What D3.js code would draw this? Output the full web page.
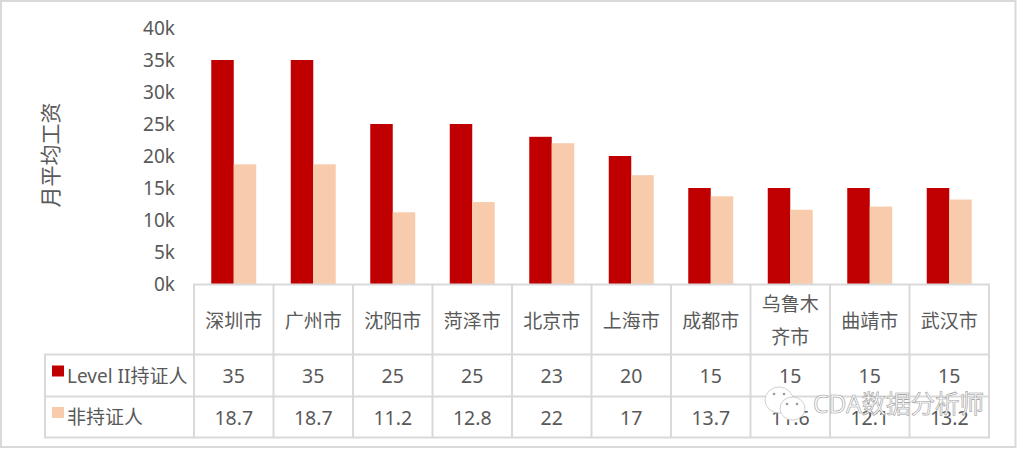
<!DOCTYPE html>
<html><head><meta charset="utf-8">
<script src="https://cdn.jsdelivr.net/npm/d3@7"></script>
<style>html,body{margin:0;padding:0;background:#fff}svg{display:block}
text{font-family:"Noto Sans","Noto Sans CJK SC",sans-serif;fill:#595959}</style>
</head><body><svg id="c" width="1017" height="449"></svg>
<script>
const cities=[["深圳市"],["广州市"],["沈阳市"],["菏泽市"],["北京市"],["上海市"],["成都市"],["乌鲁木","齐市"],["曲靖市"],["武汉市"]];
const certified=[35,35,25,25,23,20,15,15,15,15];
const nonCertified=[18.7,18.7,11.2,12.8,22,17,13.7,11.6,12.1,13.2];
const seriesNames=["Level II持证人","非持证人"];
const seriesColors=["#c00000","#f8cbad"];
const yTicks=[0,5,10,15,20,25,30,35,40];
const yTitle="月平均工资";

const svg=d3.select("#c");
const line="#d9d9d9";
svg.append("rect").attr("x",1).attr("y",1).attr("width",1014.5).attr("height",446).attr("fill","#fff").attr("stroke",line).attr("stroke-width",2);

const x=d3.scaleBand().domain(d3.range(cities.length)).range([194,989]);
const y=d3.scaleLinear().domain([0,40]).range([284,28]);
const inner=d3.scaleBand().domain([0,1]).range([0,x.bandwidth()]).paddingInner(0).paddingOuter(0.767);

// bars
[certified,nonCertified].forEach((vals,s)=>{
  svg.append("g").selectAll("rect").data(vals).join("rect")
    .attr("x",(d,i)=>x(i)+inner(s)).attr("width",inner.bandwidth())
    .attr("y",d=>y(d)).attr("height",d=>y(0)-y(d)).attr("fill",seriesColors[s]);
});

// y axis
const ay=svg.append("g").attr("transform","translate(175,0)")
  .call(d3.axisLeft(y).tickValues(yTicks).tickSize(0).tickPadding(0).tickFormat(d=>d+"k"));
ay.select(".domain").remove();
ay.selectAll("text").style("font-size","19px").style("font-family",'"Noto Sans","Noto Sans CJK SC",sans-serif').attr("fill","#595959");

svg.append("text").attr("transform","translate(50,155) rotate(-90)").attr("text-anchor","middle")
  .attr("dominant-baseline","central").style("font-size","21px").text(yTitle);

// table
const rowY=[284.5,354.5,396.5,437.5];
const left=45, colL=194, colR=989;
const g=svg.append("g").attr("stroke",line).attr("stroke-width",2).attr("fill","none");
g.append("line").attr("x1",colL-1).attr("x2",colR+1).attr("y1",rowY[0]).attr("y2",rowY[0]);
rowY.slice(1).forEach(v=>g.append("line").attr("x1",left-1).attr("x2",colR+1).attr("y1",v).attr("y2",v));
d3.range(cities.length+1).forEach(i=>{
  const px=i<cities.length?x(i):colR;
  g.append("line").attr("x1",px).attr("x2",px).attr("y1",rowY[0]).attr("y2",rowY[3]);
});
g.append("line").attr("x1",left).attr("x2",left).attr("y1",rowY[1]).attr("y2",rowY[3]);

// city labels
cities.forEach((lines,i)=>{
  const cx=x(i)+x.bandwidth()/2;
  lines.forEach((t,k)=>{
    const cy=(rowY[0]+rowY[1])/2+(k-(lines.length-1)/2)*33+1;
    svg.append("text").attr("x",cx).attr("y",cy).attr("text-anchor","middle").attr("dominant-baseline","central")
      .style("font-size","19px").text(t);
  });
});
// rows
[certified,nonCertified].forEach((vals,s)=>{
  const cy=(rowY[s+1]+rowY[s+2])/2;
  svg.append("rect").attr("x",52).attr("y",cy-10).attr("width",12).attr("height",11).attr("fill",seriesColors[s]);
  svg.append("text").attr("x",67).attr("y",cy).attr("dominant-baseline","central").style("font-size","19px").text(seriesNames[s]);
  vals.forEach((v,i)=>svg.append("text").attr("x",x(i)+x.bandwidth()/2).attr("y",cy).attr("text-anchor","middle")
    .attr("dominant-baseline","central").style("font-size","19.5px").text(v));
});

// watermark
const wm=svg.append("g");
const wmStyle=s=>s.attr("fill","#fff").attr("stroke","#bdbdbd").attr("stroke-width",0.7);
wm.append("ellipse").attr("cx",779).attr("cy",400).attr("rx",14).attr("ry",13).call(wmStyle);
wm.append("ellipse").attr("cx",792.5).attr("cy",408.5).attr("rx",12.5).attr("ry",11.5).call(wmStyle);
[[774,394],[784,394],[787,404],[797,404]].forEach(p=>wm.append("circle").attr("cx",p[0]).attr("cy",p[1]).attr("r",1.3).attr("fill","#9a9a9a"));
wm.append("text").attr("x",813).attr("y",403).attr("dominant-baseline","central").style("font-size","24.5px")
  .style("fill","#fff").style("stroke","#9a9a9a").style("stroke-width","0.6px").text("CDA数据分析师");
</script></body></html>
